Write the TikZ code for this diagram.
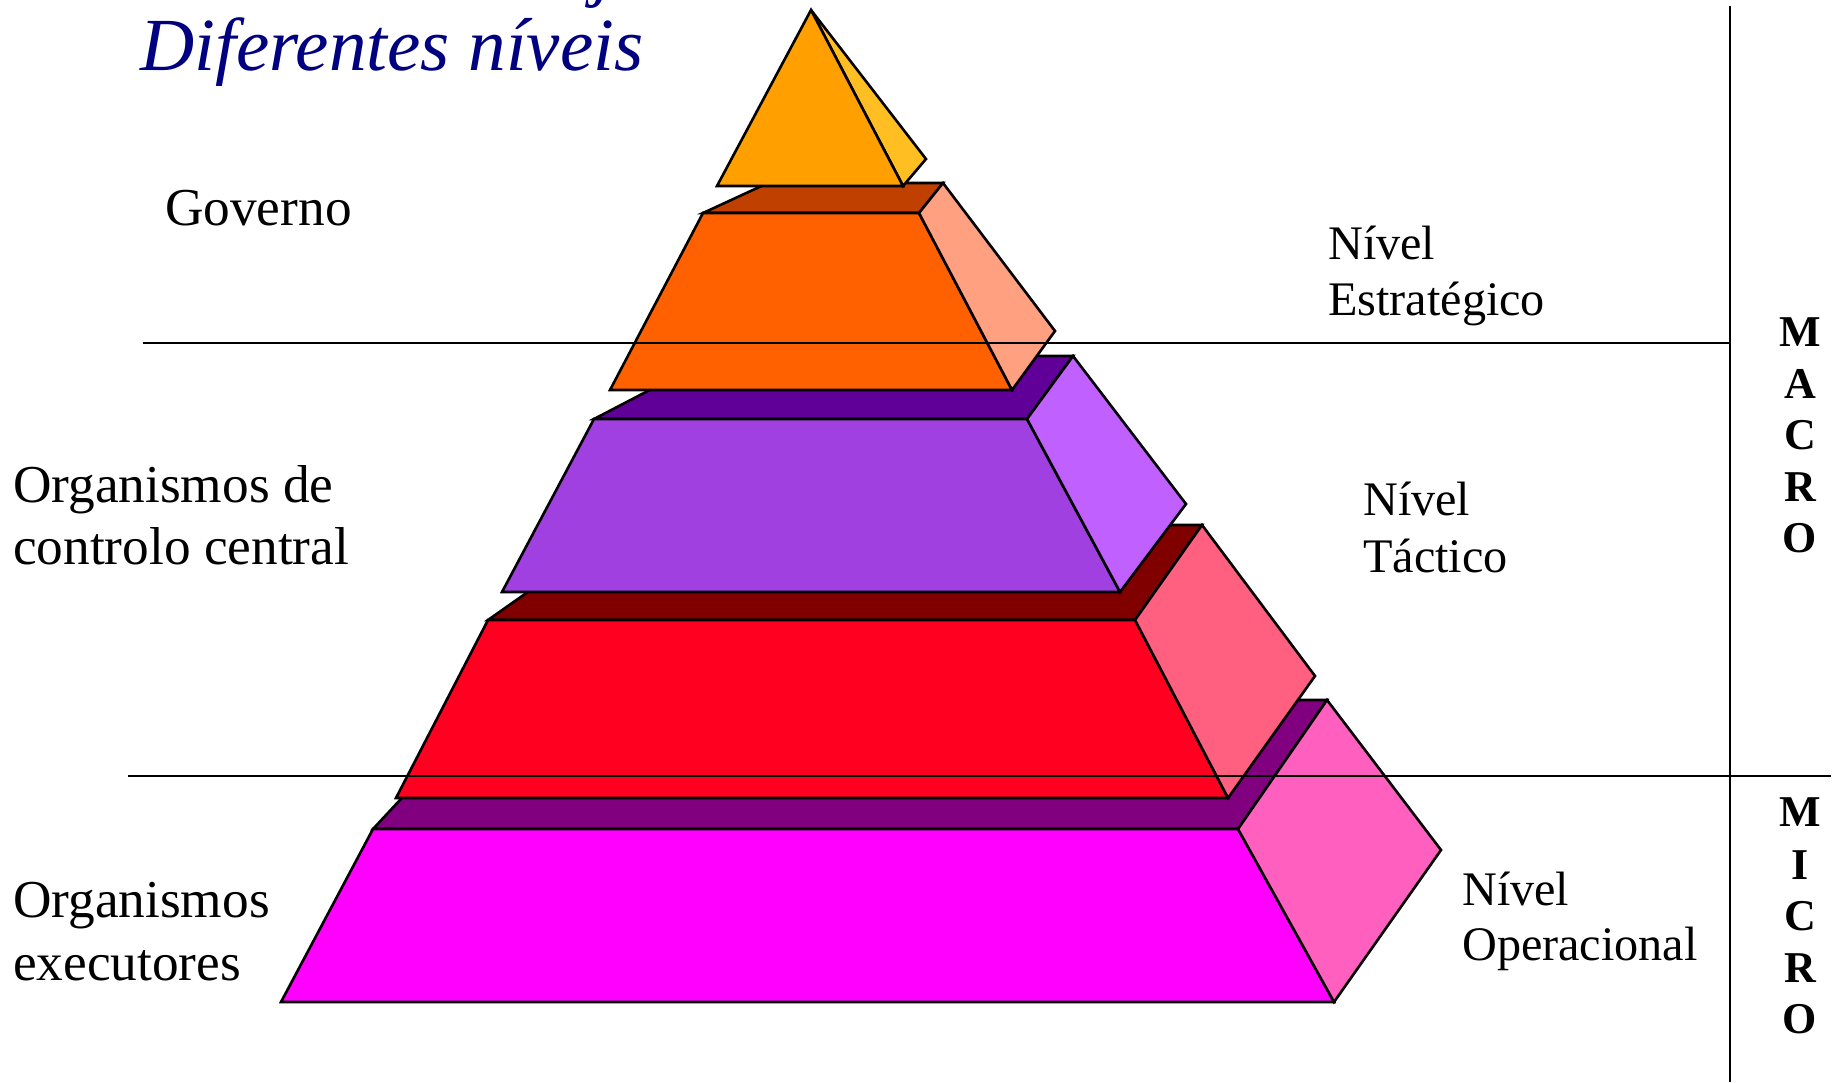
\documentclass[tikz,border=0pt]{standalone}
\usepackage{fontspec}
\setmainfont{Liberation Serif}

% face colours of the stepped pyramid
\definecolor{tipfront}{RGB}{255,160,0}
\definecolor{tipside}{RGB}{255,190,34}
\definecolor{ortop}{RGB}{192,64,0}
\definecolor{orfront}{RGB}{255,96,0}
\definecolor{orside}{RGB}{255,160,128}
\definecolor{putop}{RGB}{96,0,153}
\definecolor{pufront}{RGB}{160,64,224}
\definecolor{puside}{RGB}{192,96,255}
\definecolor{retop}{RGB}{128,0,0}
\definecolor{refront}{RGB}{255,0,32}
\definecolor{reside}{RGB}{255,96,128}
\definecolor{magtop}{RGB}{128,0,128}
\definecolor{magfront}{RGB}{255,0,255}
\definecolor{magside}{RGB}{255,96,192}
\definecolor{titleblue}{RGB}{0,0,128}

\begin{document}
\begin{tikzpicture}[x=1pt,y=-1pt,
  face/.style={draw=black,line width=2.6pt,line join=miter},
  rule/.style={draw=black,line width=2pt},
  lefttxt/.style={anchor=base west,inner sep=0pt,font=\fontsize{53.3}{63}\selectfont},
  lvltxt/.style={anchor=base west,inner sep=0pt,font=\fontsize{48.2}{57}\selectfont},
  scaletxt/.style={anchor=center,inner sep=0pt,font=\fontsize{44}{50}\selectfont\bfseries},
  headtxt/.style={anchor=base west,inner sep=0pt,text=titleblue,font=\fontsize{75}{82}\selectfont\itshape}]
\clip (0,0) rectangle (1835,1082);
\fill[white] (0,0) rectangle (1835,1082);

% bottom slab: operational level
\filldraw[face,fill=magtop]   (373,829) -- (493,700) -- (1327,700) -- (1238,829) -- cycle;
\filldraw[face,fill=magfront] (373,829) -- (1238,829) -- (1334,1002) -- (281,1002) -- cycle;
\filldraw[face,fill=magside]  (1238,829) -- (1327,700) -- (1441,850) -- (1334,1002) -- cycle;

% red slab
\filldraw[face,fill=retop]   (488,620) -- (623,525) -- (1202,525) -- (1135,620) -- cycle;
\filldraw[face,fill=refront] (488,620) -- (1135,620) -- (1228,798) -- (396,798) -- cycle;
\filldraw[face,fill=reside]  (1135,620) -- (1202,525) -- (1315,676) -- (1228,798) -- cycle;

% purple slab
\filldraw[face,fill=putop]   (594,419) -- (715,356) -- (1073,356) -- (1027,419) -- cycle;
\filldraw[face,fill=pufront] (594,419) -- (1027,419) -- (1120,592) -- (502,592) -- cycle;
\filldraw[face,fill=puside]  (1027,419) -- (1073,356) -- (1186,504) -- (1120,592) -- cycle;

% orange slab
\filldraw[face,fill=ortop]   (703,213) -- (768,183) -- (943,183) -- (919,213) -- cycle;
\filldraw[face,fill=orfront] (703,213) -- (919,213) -- (1012,390) -- (610,390) -- cycle;
\filldraw[face,fill=orside]  (919,213) -- (943,183) -- (1055,331) -- (1012,390) -- cycle;

% apex
\filldraw[face,fill=tipside]  (811,10) -- (926,159) -- (903,186) -- cycle;
\filldraw[face,fill=tipfront] (811,10) -- (903,186) -- (717,186) -- cycle;

% dividing rules
\coordinate (vtop) at (1730,6);
\coordinate (vbot) at (1730,1082);
\coordinate (h1l) at (143,343);
\coordinate (h1r) at (1730,343);
\coordinate (h2l) at (128,776);
\coordinate (h2r) at (1831,776);
\draw[rule] (vtop) -- (vbot);
\draw[rule] (h1l) -- (h1r);
\draw[rule] (h2l) -- (h2r);

% heading
\node[headtxt] (headj) at (593,-8) {j};
\node[headtxt] (head) at (140,70) {Diferentes níveis};

% organisations
\node[lefttxt] (gov) at (165,225) {Governo};
\node[lefttxt] (occ1) at (13,502) {Organismos de};
\node[lefttxt] (occ2) at (13,564) {controlo central};
\node[lefttxt] (oex1) at (13,917) {Organismos};
\node[lefttxt] (oex2) at (13,980) {executores};

% levels
\node[lvltxt] (ne1) at (1328,259) {Nível};
\node[lvltxt] (ne2) at (1328,315) {Estratégico};
\node[lvltxt] (nt1) at (1363,515) {Nível};
\node[lvltxt] (nt2) at (1363,572) {Táctico};
\node[lvltxt] (no1) at (1462,905) {Nível};
\node[lvltxt] (no2) at (1462,960) {Operacional};

% macro / micro scale
\node[scaletxt] (ma1) at (1800,332) {M};
\node[scaletxt] (ma2) at (1800,384) {A};
\node[scaletxt] (ma3) at (1800,435) {C};
\node[scaletxt] (ma4) at (1800,487) {R};
\node[scaletxt] (ma5) at (1800,538) {O};
\node[scaletxt] (mi1) at (1800,812) {M};
\node[scaletxt] (mi2) at (1800,865) {I};
\node[scaletxt] (mi3) at (1800,916) {C};
\node[scaletxt] (mi4) at (1800,968) {R};
\node[scaletxt] (mi5) at (1800,1019) {O};
\end{tikzpicture}
\end{document}
